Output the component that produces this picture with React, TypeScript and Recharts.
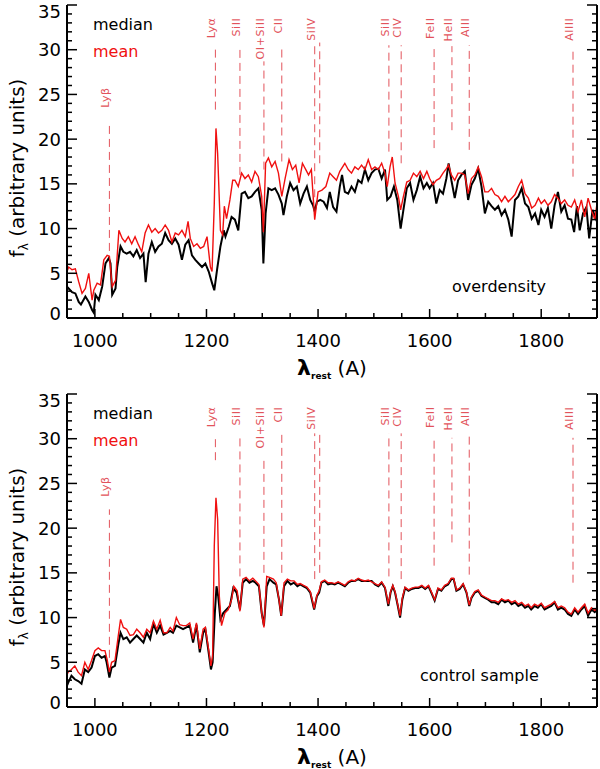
import React from 'react'
import { LineChart, Line, XAxis, YAxis, ReferenceLine, ReferenceDot } from 'recharts'

type Pt = [number, number]

// overdensity panel: median (black) and mean (red) spectra, [wavelength, flux]
const topMedian: Pt[] = [
  [950, 3.5], [953, 3.3], [959, 2.9], [965, 2.75], [971, 1.8], [975, 1.5], [983, 2.4], [989, 1.8],
  [995, 0.9], [998, 0.6], [1001, 2.6], [1007, 2.0], [1013, 3.5], [1019, 6.1], [1025, 6.7], [1028, 6.1],
  [1031, 2.6], [1037, 3.3], [1040, 5.7], [1046, 8.0], [1051, 7.4], [1057, 7.2], [1063, 7.4], [1069, 6.9],
  [1075, 7.6], [1081, 6.7], [1087, 7.2], [1091, 4.0], [1096, 7.2], [1102, 8.5], [1108, 7.4], [1114, 8.0],
  [1120, 8.3], [1126, 9.5], [1132, 8.7], [1138, 8.3], [1144, 8.9], [1150, 8.2], [1156, 6.5], [1162, 8.2],
  [1168, 8.7], [1174, 7.0], [1180, 6.5], [1186, 6.1], [1192, 5.7], [1198, 6.1], [1204, 5.2], [1210, 3.9],
  [1214, 3.1], [1219, 5.4], [1225, 8.0], [1231, 9.8], [1234, 9.1], [1240, 10.2], [1245, 11.3], [1251, 11.0],
  [1257, 9.8], [1263, 13.9], [1269, 14.1], [1275, 13.4], [1281, 13.6], [1287, 14.1], [1293, 14.5], [1299, 12.1],
  [1302, 6.1], [1306, 11.7], [1311, 14.5], [1317, 14.3], [1323, 14.5], [1329, 13.8], [1335, 12.8], [1338, 11.5],
  [1344, 13.6], [1350, 15.1], [1356, 14.3], [1362, 14.7], [1368, 12.8], [1374, 13.9], [1380, 14.7], [1386, 13.2],
  [1391, 12.6], [1394, 11.9], [1398, 13.0], [1404, 13.2], [1410, 13.0], [1416, 12.3], [1421, 14.1], [1427, 12.4],
  [1433, 11.9], [1439, 14.7], [1443, 16.0], [1448, 14.1], [1454, 13.9], [1460, 14.7], [1466, 14.1], [1472, 15.4],
  [1478, 15.1], [1484, 16.6], [1490, 15.4], [1496, 16.2], [1502, 16.6], [1508, 16.7], [1514, 15.6], [1520, 16.6],
  [1524, 13.2], [1530, 13.6], [1536, 14.7], [1542, 13.2], [1548, 10.0], [1553, 12.1], [1559, 14.5], [1565, 15.1],
  [1571, 13.2], [1577, 14.3], [1583, 15.8], [1589, 14.5], [1595, 15.1], [1600, 14.5], [1606, 15.1], [1612, 12.8],
  [1618, 14.3], [1624, 13.9], [1630, 15.6], [1634, 17.3], [1639, 15.4], [1645, 13.4], [1651, 15.4], [1657, 16.0],
  [1663, 16.4], [1669, 13.2], [1675, 14.9], [1681, 15.6], [1687, 16.7], [1693, 14.7], [1699, 11.7], [1705, 13.0],
  [1711, 12.5], [1717, 12.1], [1723, 12.5], [1729, 11.5], [1735, 12.1], [1741, 11.0], [1747, 9.1], [1753, 13.2],
  [1759, 13.6], [1765, 14.5], [1771, 12.8], [1777, 12.4], [1783, 11.1], [1789, 11.7], [1795, 10.4], [1800, 12.1],
  [1806, 11.3], [1812, 12.3], [1818, 10.0], [1824, 12.6], [1830, 14.1], [1836, 11.9], [1842, 12.6], [1848, 11.1],
  [1854, 11.0], [1859, 9.6], [1864, 12.5], [1869, 9.8], [1875, 11.7], [1881, 12.4], [1886, 8.9], [1892, 12.1],
  [1898, 11.1], [1900, 11.5],
]

const topMean: Pt[] = [
  [950, 5.2], [953, 5.7], [959, 5.4], [965, 5.5], [971, 4.05], [977, 2.75], [983, 3.3], [989, 5.0],
  [995, 2.0], [998, 3.1], [1004, 3.9], [1010, 3.7], [1016, 6.5], [1022, 7.0], [1026, 6.9], [1031, 3.5],
  [1037, 4.2], [1043, 9.8], [1049, 8.9], [1054, 8.5], [1060, 9.1], [1066, 8.3], [1072, 9.1], [1078, 8.2],
  [1084, 7.4], [1090, 9.5], [1096, 10.4], [1102, 9.6], [1108, 10.0], [1114, 9.5], [1120, 9.8], [1126, 10.4],
  [1132, 9.8], [1138, 8.5], [1144, 9.5], [1150, 9.3], [1156, 9.8], [1162, 9.1], [1167, 10.8], [1171, 8.9],
  [1177, 8.0], [1183, 8.3], [1189, 7.8], [1195, 8.0], [1201, 9.1], [1207, 5.7], [1210, 5.2], [1214, 12.8],
  [1217, 21.2], [1220, 18.4], [1225, 9.8], [1229, 9.3], [1232, 12.5], [1236, 11.1], [1242, 13.2], [1247, 15.4],
  [1251, 15.4], [1257, 14.7], [1263, 16.2], [1269, 15.6], [1275, 16.0], [1281, 15.2], [1287, 16.4], [1293, 15.8],
  [1299, 13.6], [1302, 9.6], [1306, 17.3], [1311, 17.9], [1317, 16.9], [1323, 17.5], [1329, 16.2], [1335, 13.6],
  [1341, 15.6], [1348, 17.7], [1354, 16.6], [1360, 17.1], [1366, 15.1], [1372, 17.3], [1378, 16.6], [1383, 16.0],
  [1388, 16.6], [1394, 11.0], [1400, 14.1], [1407, 14.3], [1414, 14.7], [1421, 16.2], [1427, 15.8], [1433, 15.4],
  [1439, 16.4], [1448, 17.3], [1454, 16.6], [1460, 16.2], [1466, 16.9], [1472, 16.6], [1478, 17.1], [1484, 16.6],
  [1490, 17.7], [1496, 16.6], [1502, 16.9], [1508, 16.6], [1514, 17.3], [1520, 16.2], [1524, 14.7], [1529, 16.9],
  [1533, 18.0], [1538, 15.1], [1544, 13.6], [1548, 12.1], [1553, 13.6], [1559, 15.2], [1565, 15.4], [1571, 16.2],
  [1577, 15.8], [1583, 16.4], [1589, 15.6], [1595, 16.4], [1600, 15.6], [1606, 14.9], [1612, 15.4], [1618, 15.6],
  [1624, 16.2], [1630, 16.7], [1634, 17.1], [1639, 16.0], [1645, 15.4], [1651, 16.2], [1657, 16.2], [1663, 16.0],
  [1669, 13.9], [1675, 15.6], [1681, 16.0], [1687, 16.9], [1693, 15.8], [1699, 14.1], [1705, 14.1], [1711, 14.5],
  [1717, 13.8], [1723, 13.6], [1729, 13.0], [1735, 13.6], [1741, 13.0], [1747, 13.4], [1753, 13.8], [1759, 14.7],
  [1765, 15.4], [1771, 13.9], [1777, 13.4], [1783, 12.3], [1789, 12.6], [1795, 13.4], [1800, 12.8], [1806, 13.2],
  [1812, 12.6], [1818, 13.0], [1824, 13.8], [1830, 13.4], [1836, 12.8], [1842, 13.2], [1848, 12.6], [1854, 12.4],
  [1860, 13.2], [1866, 11.9], [1872, 13.2], [1878, 11.3], [1884, 13.4], [1890, 12.1], [1896, 11.0], [1900, 12.8],
]

// control sample panel
const botMedian: Pt[] = [
  [950, 2.4], [952, 2.7], [958, 3.5], [964, 3.1], [970, 2.9], [976, 2.6], [982, 4.2], [988, 3.9],
  [994, 4.4], [1000, 5.7], [1006, 5.9], [1012, 5.5], [1018, 5.7], [1021, 5.0], [1026, 3.3], [1030, 4.4],
  [1036, 4.6], [1042, 7.0], [1046, 8.3], [1051, 7.6], [1057, 7.8], [1063, 7.2], [1069, 7.6], [1075, 8.0],
  [1081, 7.6], [1087, 7.2], [1093, 8.3], [1099, 7.6], [1105, 9.3], [1111, 8.3], [1117, 9.1], [1123, 8.1],
  [1129, 8.3], [1135, 8.5], [1140, 8.3], [1146, 9.1], [1152, 8.9], [1158, 8.7], [1164, 8.9], [1170, 9.1],
  [1176, 7.2], [1182, 9.2], [1188, 6.1], [1194, 8.3], [1198, 8.7], [1203, 6.5], [1208, 4.2], [1211, 5.0],
  [1215, 10.5], [1218, 13.5], [1221, 12.4], [1225, 9.8], [1230, 10.5], [1236, 10.9], [1242, 11.3], [1248, 13.3],
  [1254, 12.8], [1260, 10.9], [1265, 13.9], [1271, 14.3], [1277, 13.9], [1283, 14.1], [1288, 13.9], [1294, 13.5],
  [1299, 10.5], [1303, 9.1], [1308, 13.5], [1313, 14.3], [1320, 13.9], [1325, 13.7], [1330, 12.0], [1334, 10.2],
  [1339, 13.5], [1345, 14.1], [1351, 13.7], [1357, 13.9], [1363, 13.5], [1368, 13.7], [1374, 13.5], [1380, 13.3],
  [1386, 12.8], [1390, 11.7], [1393, 10.9], [1398, 12.4], [1402, 12.8], [1406, 13.9], [1412, 14.1], [1418, 13.7],
  [1424, 13.8], [1430, 13.7], [1436, 13.9], [1442, 13.7], [1448, 13.5], [1454, 13.9], [1460, 14.1], [1466, 14.1],
  [1472, 14.3], [1478, 14.1], [1484, 14.1], [1490, 14.1], [1496, 14.1], [1502, 13.7], [1508, 13.5], [1514, 13.9],
  [1520, 13.3], [1526, 11.3], [1530, 12.8], [1534, 13.5], [1538, 12.8], [1543, 11.3], [1547, 10.0], [1551, 12.0],
  [1556, 13.3], [1562, 13.0], [1568, 13.2], [1574, 13.3], [1580, 13.3], [1586, 13.5], [1592, 13.2], [1598, 13.5],
  [1603, 12.8], [1609, 11.9], [1615, 13.2], [1621, 13.0], [1627, 13.5], [1633, 13.7], [1639, 14.3], [1643, 14.3],
  [1648, 13.0], [1654, 13.2], [1660, 13.7], [1666, 12.8], [1671, 11.3], [1675, 12.2], [1681, 12.8], [1687, 13.0],
  [1693, 12.4], [1699, 12.2], [1705, 12.0], [1711, 11.7], [1717, 11.7], [1723, 11.5], [1729, 12.0], [1735, 11.7],
  [1741, 11.9], [1747, 11.5], [1753, 11.7], [1759, 11.3], [1765, 11.5], [1771, 11.1], [1777, 11.3], [1782, 10.9],
  [1788, 11.3], [1794, 11.1], [1800, 11.5], [1806, 10.9], [1812, 11.1], [1818, 11.3], [1824, 11.7], [1830, 10.9],
  [1836, 11.1], [1842, 10.9], [1848, 10.4], [1854, 10.2], [1860, 10.9], [1866, 10.4], [1872, 10.9], [1878, 11.3],
  [1884, 10.2], [1890, 10.9], [1896, 10.6], [1900, 10.9],
]

const botMean: Pt[] = [
  [950, 3.6], [952, 3.9], [958, 4.2], [964, 4.6], [970, 3.9], [976, 3.5], [982, 5.0], [988, 4.2],
  [994, 5.2], [1000, 6.3], [1006, 6.6], [1012, 6.3], [1018, 6.3], [1022, 5.3], [1026, 3.9], [1030, 5.0],
  [1036, 5.2], [1042, 8.0], [1046, 9.8], [1051, 8.9], [1057, 8.7], [1063, 8.0], [1069, 8.1], [1075, 8.7],
  [1081, 8.3], [1087, 7.8], [1093, 8.7], [1099, 8.3], [1105, 9.6], [1111, 8.7], [1117, 9.7], [1123, 8.3],
  [1129, 8.3], [1135, 8.9], [1140, 8.5], [1146, 10.0], [1152, 9.2], [1158, 9.1], [1164, 9.1], [1170, 9.4],
  [1176, 7.6], [1182, 9.4], [1188, 6.5], [1194, 8.7], [1198, 8.9], [1203, 6.8], [1208, 4.6], [1211, 5.7],
  [1214, 18.0], [1217, 23.4], [1220, 21.0], [1223, 12.4], [1227, 9.1], [1233, 10.5], [1239, 10.9], [1245, 12.0],
  [1249, 13.5], [1255, 13.0], [1260, 10.7], [1265, 14.3], [1271, 14.5], [1277, 14.1], [1283, 14.4], [1288, 14.1],
  [1294, 13.7], [1299, 10.5], [1303, 8.9], [1308, 14.6], [1313, 14.5], [1320, 14.3], [1325, 13.9], [1330, 12.0],
  [1334, 10.2], [1339, 13.9], [1345, 14.3], [1351, 14.1], [1357, 14.1], [1363, 13.7], [1368, 13.8], [1374, 13.6],
  [1380, 13.4], [1386, 12.9], [1390, 11.9], [1393, 11.0], [1398, 12.5], [1402, 13.0], [1406, 14.0], [1412, 14.2],
  [1418, 13.9], [1424, 13.9], [1430, 13.8], [1436, 14.0], [1442, 13.8], [1448, 13.6], [1454, 14.0], [1460, 14.2],
  [1466, 14.1], [1472, 14.4], [1478, 14.2], [1484, 14.1], [1490, 14.2], [1496, 14.0], [1502, 13.8], [1508, 13.6],
  [1514, 14.0], [1520, 13.4], [1526, 11.5], [1530, 12.9], [1534, 13.6], [1538, 12.9], [1543, 11.4], [1547, 10.2],
  [1551, 12.2], [1556, 13.4], [1562, 13.1], [1568, 13.3], [1574, 13.4], [1580, 13.4], [1586, 13.6], [1592, 13.3],
  [1598, 13.6], [1603, 12.9], [1609, 12.0], [1615, 13.3], [1621, 13.1], [1627, 13.6], [1633, 13.8], [1639, 14.4],
  [1643, 14.4], [1648, 13.1], [1654, 13.3], [1660, 13.8], [1666, 12.9], [1671, 11.4], [1675, 12.3], [1681, 12.9],
  [1687, 13.1], [1693, 12.5], [1699, 12.3], [1705, 12.1], [1711, 11.9], [1717, 11.9], [1723, 11.7], [1729, 12.1],
  [1735, 11.9], [1741, 12.0], [1747, 11.7], [1753, 11.9], [1759, 11.5], [1765, 11.7], [1771, 11.3], [1777, 11.5],
  [1782, 11.1], [1788, 11.5], [1794, 11.3], [1800, 11.6], [1806, 11.1], [1812, 11.3], [1818, 11.5], [1824, 11.8],
  [1830, 11.1], [1836, 11.3], [1842, 11.1], [1848, 10.6], [1854, 10.4], [1860, 11.1], [1866, 10.6], [1872, 11.1],
  [1878, 11.5], [1884, 10.5], [1890, 11.1], [1896, 10.8], [1900, 11.0],
]

// emission / absorption line identifications
const labelNames = ['Lyβ', 'Lyα', 'SiII', 'OI+SiII', 'CII', 'SiIV', 'SiII', 'CIV', 'FeII', 'HeII', 'AlII', 'AlIII']
const labelWaves = [1026, 1216, 1260, 1303, 1335, 1394, 1527, 1549, 1608, 1640, 1671, 1857]
const labelTops = [25.8, 33.6, 33.6, 33.6, 33.6, 33.6, 33.6, 33.6, 33.6, 33.6, 33.6, 33.6]

const dashWaves = [1026, 1216, 1260, 1303, 1335, 1394, 1403, 1527, 1549, 1608, 1640, 1671, 1857]
const topDashLow = [7.5, 23.3, 16.0, 16.6, 17.5, 13.5, 17.3, 18.6, 17.3, 19.0, 21.0, 18.8, 15.8]
const topDashHigh = [21.9, 30.3, 30.3, 28.7, 30.3, 30.8, 30.8, 30.5, 30.5, 30.5, 30.4, 30.5, 30.1]
const botDashLow = [5.5, 27.6, 14.6, 15.0, 15.0, 14.3, 15.0, 14.6, 14.3, 15.8, 18.4, 14.8, 13.9]
const botDashHigh = [22.1, 30.2, 30.5, 28.0, 30.5, 30.6, 30.6, 30.6, 30.6, 30.3, 30.1, 30.5, 30.1]

const xTicks = [950, 1000, 1050, 1100, 1150, 1200, 1250, 1300, 1350, 1400, 1450, 1500, 1550, 1600, 1650, 1700, 1750, 1800, 1850, 1900]
const yTicks = [0, 1, 2, 3, 4, 5, 6, 7, 8, 9, 10, 11, 12, 13, 14, 15, 16, 17, 18, 19, 20, 21, 22, 23, 24, 25, 26, 27, 28, 29, 30, 31, 32, 33, 34, 35]

const FONT = 'DejaVu Sans'
const LABEL_RED = '#e2535b'
const pen = { stroke: '#000', strokeWidth: 1.5 }
const frame = { stroke: '#000', strokeWidth: 2 }

function BottomTick(props: any) {
  const { x, y, payload } = props
  const major = payload.value % 200 === 0
  return (
    <g>
      <line x1={x} x2={x} y1={y} y2={y - (major ? 9 : 5)} {...pen} />
      {major && (
        <text x={x} y={y + 29} textAnchor="middle" fontSize={18} fontFamily={FONT} fill="#000">
          {payload.value}
        </text>
      )}
    </g>
  )
}

function TopTick(props: any) {
  const { x, y, payload } = props
  const major = payload.value % 200 === 0
  return <line x1={x} x2={x} y1={y} y2={y + (major ? 9 : 5)} {...pen} />
}

function LeftTick(props: any) {
  const { x, y, payload } = props
  const v = payload.value
  const major = v % 5 === 0
  // end labels are nudged inside the frame, as in the original
  const nudge = v === 35 ? 7 : v === 0 ? -4 : 0
  return (
    <g>
      <line x1={x} x2={x + (major ? 10 : 5)} y1={y} y2={y} {...pen} />
      {major && (
        <text x={x - 6} y={y + nudge} dy="0.36em" textAnchor="end" fontSize={18} fontFamily={FONT} fill="#000">
          {v}
        </text>
      )}
    </g>
  )
}

function RightTick(props: any) {
  const { x, y, payload } = props
  const major = payload.value % 5 === 0
  return <line x1={x} x2={x - (major ? 10 : 5)} y1={y} y2={y} {...pen} />
}

function LineLabel(name: string) {
  return (p: any) => (
    <text
      x={p.cx}
      y={p.cy}
      transform={`rotate(-90 ${p.cx} ${p.cy})`}
      textAnchor="end"
      fontSize={11}
      letterSpacing={0.6}
      fontFamily={FONT}
      fill={LABEL_RED}
    >
      {name}
    </text>
  )
}

interface PanelProps {
  median: Pt[]
  mean: Pt[]
  dashLow: number[]
  dashHigh: number[]
}

function Panel({ median, mean, dashLow, dashHigh }: PanelProps) {
  const med = median.map(([w, f]) => ({ w, f }))
  const avg = mean.map(([w, f]) => ({ w, f }))
  return (
    <LineChart width={600} height={385} margin={{ top: 5, right: 0, bottom: 0, left: 0 }}>
      <XAxis
        xAxisId="b" dataKey="w" type="number" domain={[950, 1900]} allowDataOverflow
        ticks={xTicks} interval={0} tick={BottomTick} tickLine={false} tickSize={0} tickMargin={0}
        axisLine={frame} height={67}
      />
      <XAxis
        xAxisId="t" orientation="top" type="number" domain={[950, 1900]} allowDataOverflow
        ticks={xTicks} interval={0} tick={TopTick} tickLine={false} tickSize={0} tickMargin={0}
        axisLine={frame} height={0}
      />
      <YAxis
        yAxisId="l" type="number" domain={[0, 35]} allowDataOverflow
        ticks={yTicks} interval={0} tick={LeftTick} tickLine={false} tickSize={0} tickMargin={0}
        axisLine={frame} width={67}
      />
      <YAxis
        yAxisId="r" orientation="right" type="number" domain={[0, 35]} allowDataOverflow
        ticks={yTicks} interval={0} tick={RightTick} tickLine={false} tickSize={0} tickMargin={0}
        axisLine={frame} width={3}
      />
      {dashWaves.map((w, i) => (
        <ReferenceLine
          key={`d${i}`} xAxisId="b" yAxisId="l"
          segment={[{ x: w, y: dashLow[i] }, { x: w, y: dashHigh[i] }]}
          stroke={LABEL_RED} strokeWidth={1} strokeDasharray="8 5"
        />
      ))}
      {labelWaves.map((w, i) => (
        <ReferenceDot
          key={`l${i}`} xAxisId="b" yAxisId="l" x={w} y={labelTops[i]} r={0}
          shape={LineLabel(labelNames[i])}
        />
      ))}
      <Line
        xAxisId="b" yAxisId="l" data={med} dataKey="f" type="linear"
        stroke="#000" strokeWidth={2} dot={false} isAnimationActive={false}
      />
      <Line
        xAxisId="b" yAxisId="l" data={avg} dataKey="f" type="linear"
        stroke="#f01010" strokeWidth={1.4} dot={false} isAnimationActive={false}
      />
    </LineChart>
  )
}

function Titles({ top, note, noteX }: { top: number; note: string; noteX: number }) {
  return (
    <g fontFamily={FONT}>
      <text x={93} y={top + 30} fontSize={16} fill="#000">median</text>
      <text x={93} y={top + 57} fontSize={16} fill="#f01010">mean</text>
      <text x={noteX} y={top + 292} fontSize={16} fill="#000">{note}</text>
      <text
        x={24} y={top + 168} transform={`rotate(-90 24 ${top + 168})`}
        textAnchor="middle" fontSize={20} fill="#000"
      >
        <tspan>f</tspan>
        <tspan fontSize={12} dy={4}>λ</tspan>
        <tspan dy={-4}> (arbitrary units)</tspan>
      </text>
      <text x={332} y={top + 375} textAnchor="middle" fill="#000">
        <tspan fontSize={22} fontWeight="bold">λ</tspan>
        <tspan fontSize={9} fontWeight="bold" dy={4}>rest</tspan>
        <tspan fontSize={20} dy={-4}>  (A)</tspan>
      </text>
    </g>
  )
}

export default function App() {
  return (
    <div style={{ position: 'absolute', left: 0, top: 0, width: 600, height: 769, overflow: 'hidden', background: '#fff' }}>
      <div style={{ position: 'absolute', left: 0, top: 0 }}>
        <Panel median={topMedian} mean={topMean} dashLow={topDashLow} dashHigh={topDashHigh} />
      </div>
      <div style={{ position: 'absolute', left: 0, top: 389 }}>
        <Panel median={botMedian} mean={botMean} dashLow={botDashLow} dashHigh={botDashHigh} />
      </div>
      <svg width={600} height={769} style={{ position: 'absolute', left: 0, top: 0, pointerEvents: 'none' }}>
        <Titles top={0} note="overdensity" noteX={452} />
        <Titles top={389} note="control sample" noteX={420} />
      </svg>
    </div>
  )
}
